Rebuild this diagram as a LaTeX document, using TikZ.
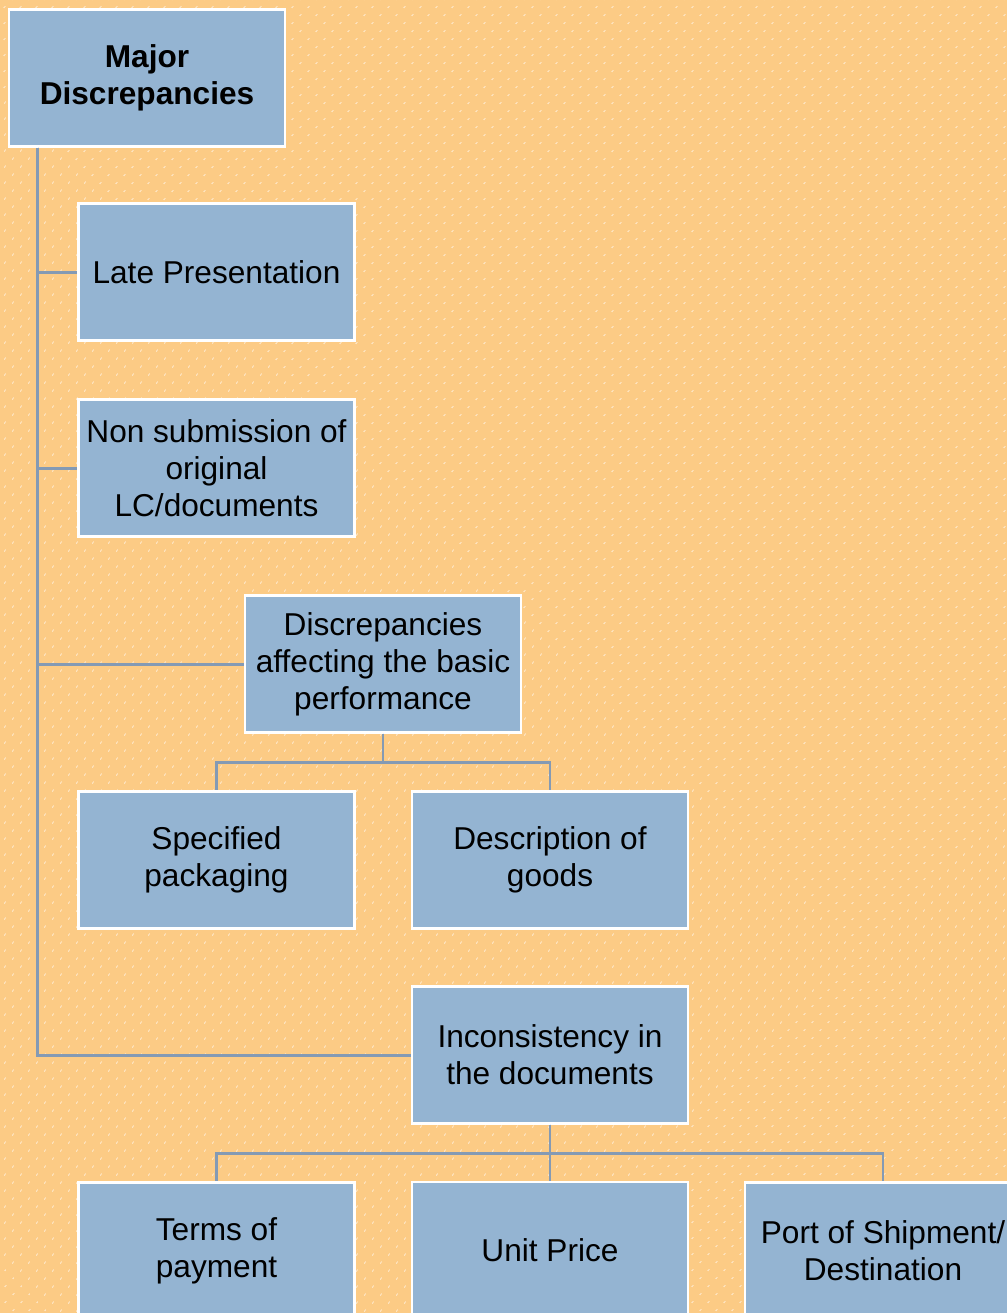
\documentclass[tikz,border=0pt]{standalone}
\usepackage{fontspec}
\setmainfont{Liberation Sans}
\usepackage{tikz}
\usetikzlibrary{patterns.meta,positioning}
\usepackage{xcolor}
\definecolor{bgorange}{RGB}{252,203,133}
\definecolor{boxblue}{RGB}{148,180,210}
\definecolor{linkgrey}{RGB}{132,154,180}
\tikzstyle{item} = [draw=white, line width=1.4pt, fill=boxblue, minimum width=5.52cm, minimum height=2.74cm, align=center, font=\fontsize{18}{21}\selectfont]
\tikzstyle{link} = [linkgrey, line width=1.7pt]

\begin{document}
\begin{tikzpicture}[x=0.02cm, y=-0.02cm]
% background
\useasboundingbox (0,0) rectangle (1007,1313);
\fill[bgorange] (0,0) rectangle (1007,1313);
\fill[pattern={Dots[distance=6.4pt, radius=0.5pt, angle=45]}, pattern color=white] (0,0) rectangle (1007,1313);

% boxes
\node[item] (major) at (147,78) {\textbf{Major}\\\textbf{Discrepancies}};
\node[item] (late) at (216.5,272) {Late Presentation};
\node[item] (nonsub) at (216.5,468) {Non submission of\\original\\LC/documents};
\node[item] (basic) at (383,664) {Discrepancies\\affecting the basic\\performance};
\node[item] (packing) at (216.5,860) {Specified\\packaging};
\node[item] (goods) at (550,860) {Description of\\goods};
\node[item] (incons) at (550,1055) {Inconsistency in\\the documents};
\node[item] (terms) at (216.5,1251) {Terms of\\payment};
\node[item] (price) at (550,1250.5) {Unit Price};
\node[item] (port) at (883,1251) {Port of Shipment/\\Destination};

% connectors
\coordinate (trunk) at ([xshift=0.6cm]major.south west);
\draw[link] (trunk) |- (incons.west);
\draw[link] (trunk) |- (late.west);
\draw[link] (trunk) |- (nonsub.west);
\draw[link] (trunk) |- (basic.west);
\draw[link] (basic.south) -- ++(0,29) -| (packing.north);
\draw[link] (basic.south) -- ++(0,29) -| (goods.north);
\draw[link] (incons.south) -- ++(0,29) -| (terms.north);
\draw[link] (incons.south) -- (price.north);
\draw[link] (incons.south) -- ++(0,29) -| (port.north);
\end{tikzpicture}
\end{document}
